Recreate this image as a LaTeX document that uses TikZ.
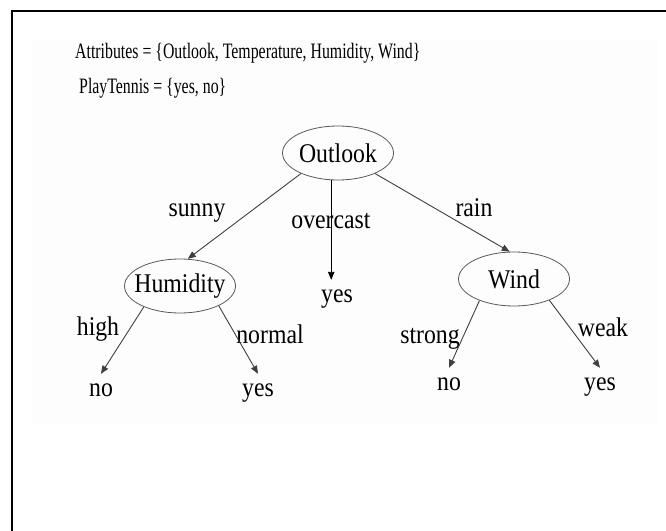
\documentclass[tikz,border=0pt]{standalone}
\usepackage{fontspec}
\setmainfont[FakeStretch=0.88]{Liberation Serif}
\newfontfamily\headfont[FakeStretch=0.72]{Liberation Serif}
\usepackage{tikz}
\usetikzlibrary{positioning, shapes.geometric, arrows.meta}
\definecolor{slidegray}{rgb}{0.993, 0.993, 0.993}
\definecolor{edgegray}{rgb}{0.25, 0.25, 0.25}
\definecolor{ovalgray}{rgb}{0.35, 0.35, 0.35}

\begin{document}
\begin{tikzpicture}[x=1bp, y=-1bp,
    attr/.style={ellipse, draw=ovalgray, line width=0.8bp, minimum width=111bp, minimum height=54bp, inner sep=0pt},
    branch/.style={anchor=base, inner sep=0pt},
    leaf/.style={anchor=base, inner sep=0pt, text height=22bp, text depth=0pt},
    treeedge/.style={draw=edgegray, line width=0.9bp, -{Triangle[length=8bp, width=6.5bp]}},
    every node/.style={font=\fontsize{27bp}{32bp}\selectfont}]
    \useasboundingbox (0,0) rectangle (666,531);
    \fill[slidegray] (32,40) rectangle (658,425);
    \draw[line width=2.6bp] (12,531) -- (12,11) -- (666,11);
    % header
    \node[anchor=base west, inner sep=0pt, font=\headfont\fontsize{22bp}{26bp}\selectfont] (attrs) at (75,59) {Attributes = \{Outlook, Temperature, Humidity, Wind\}};
    \node[anchor=base west, inner sep=0pt, font=\headfont\fontsize{22bp}{26bp}\selectfont] (target) at (79,94) {PlayTennis = \{yes, no\}};
    % tree
    \node[attr, label={center:Outlook}] (outlook) at (338,153) {};
    \node[attr, label={center:Humidity}] (humidity) at (180,286) {};
    \node[attr, label={center:Wind}] (wind) at (514,279) {};
    \node[leaf] (yes0) at (337,302) {yes};
    \node[leaf] (no1) at (101,396) {no};
    \node[leaf] (yes1) at (258,396) {yes};
    \node[leaf] (no2) at (449,390) {no};
    \node[leaf] (yes2) at (600,390) {yes};
    \node[branch] (sunny) at (197,217) {sunny};
    \node[branch] (overcast) at (331,229) {overcast};
    \node[branch] (rain) at (474,217) {rain};
    \node[branch] (high) at (98,335) {high};
    \node[branch] (normal) at (270,343) {normal};
    \node[branch] (strong) at (430,343) {strong};
    \node[branch] (weak) at (603,336) {weak};
    \draw[treeedge] (outlook.209) -- (humidity.74);
    \draw[treeedge, draw=black] (outlook.256) -- (outlook.256 |- yes0.north);
    \draw[treeedge] (outlook.331) -- (wind.99);
    \draw[treeedge] (humidity.210) -- (no1.north);
    \draw[treeedge] (humidity.333) -- (yes1.north);
    \draw[treeedge] (wind.212) -- (no2.north);
    \draw[treeedge] (wind.329) -- (yes2.north);
\end{tikzpicture}
\end{document}
